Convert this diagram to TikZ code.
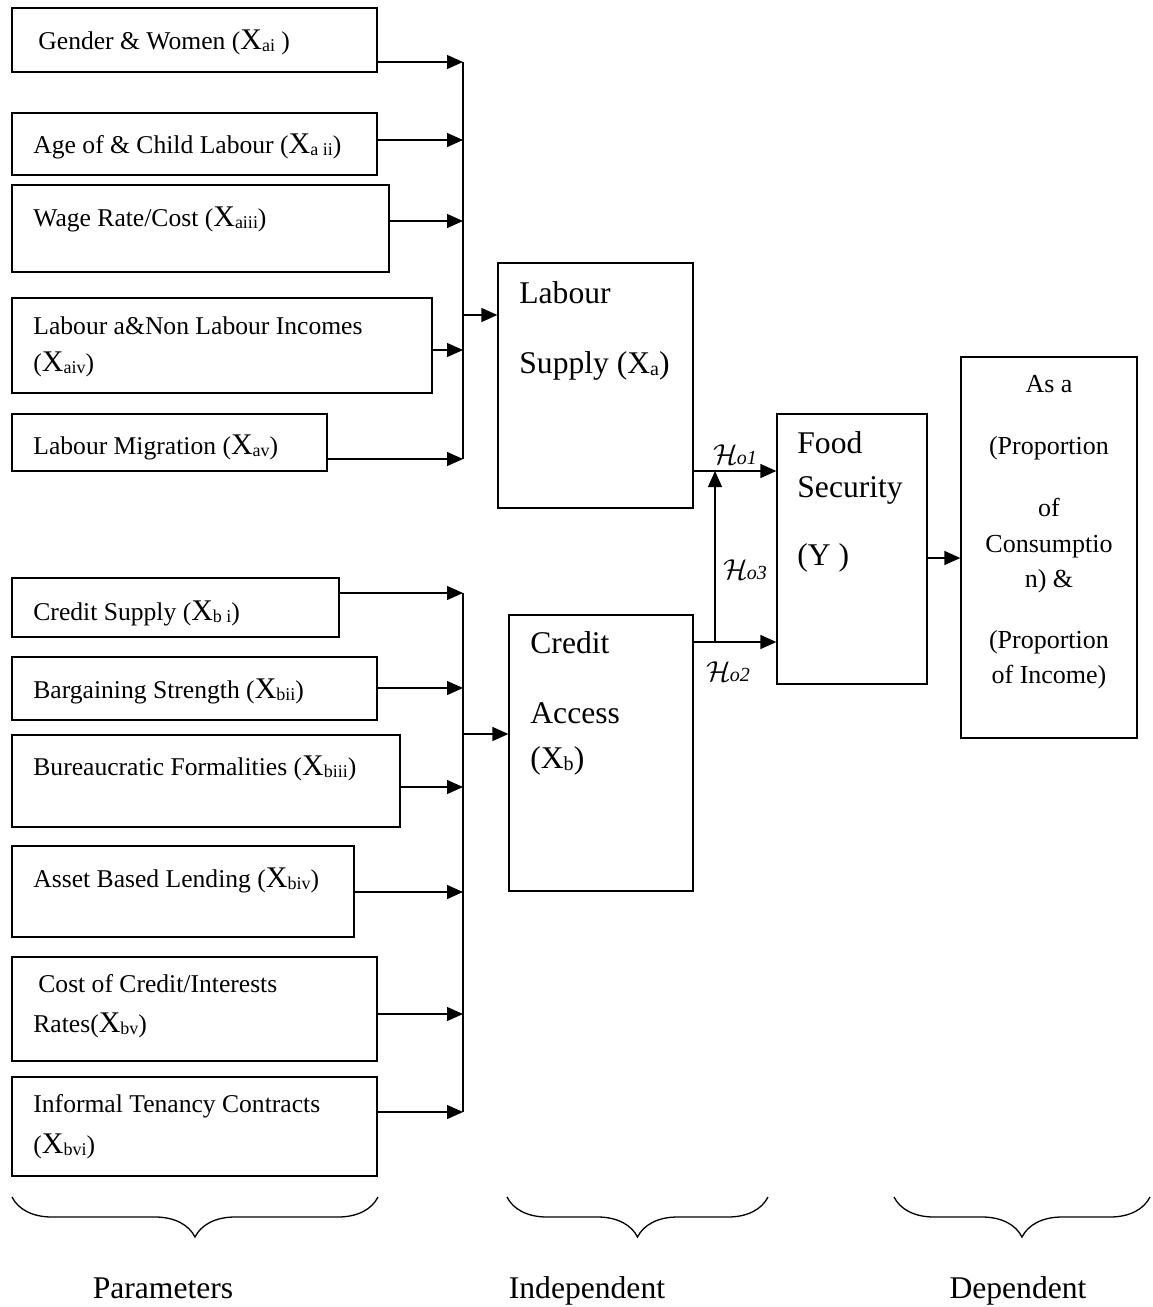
\documentclass[tikz,border=0pt]{standalone}
\usepackage{fontspec}
\setmainfont{Liberation Serif}
\usetikzlibrary{arrows.meta,fit,decorations.pathreplacing}

% variable names: big X, small lowered index
\newcommand{\Xsub}[1]{{\fontsize{15}{15}\selectfont X}\raisebox{-1.2pt}{\fontsize{9}{9}\selectfont #1}}
\newcommand{\Xsm}[1]{X\raisebox{-1.2pt}{\fontsize{10}{10}\selectfont #1}}
\newcommand{\Hyp}[1]{{\fontsize{14}{14}\selectfont$\mathcal{H}$}\kern-0.5pt{\itshape\fontsize{10}{10}\selectfont o#1}}

\tikzset{
  box/.style={draw, line width=0.65pt, inner sep=0pt},
  lbl/.style={anchor=base west, inner sep=0pt, align=left, font=\fontsize{12.8}{18.5}\selectfont},
  big/.style={anchor=base west, inner sep=0pt, align=left, font=\fontsize{15.8}{20}\selectfont},
  caption/.style={anchor=base, inner sep=0pt, font=\fontsize{15.8}{18}\selectfont},
  ln/.style={line width=0.65pt},
  arr/.style={line width=0.65pt, -{Triangle[length=8pt,width=7pt]}},
}

\begin{document}
\begin{tikzpicture}[x=0.5pt, y=-0.5pt]
\useasboundingbox (0,0) rectangle (1152,1307);

% parameters of labour supply (text nodes sit on their last baseline)
\node[box, fit={(12,8) (377,72)}] (gender) {};
\node[lbl] (gender-t) at (38,49) {Gender \& Women (\Xsub{ai} )};
\node[box, fit={(12,113) (377,175)}] (age) {};
\node[lbl] (age-t) at (33,153) {Age of \& Child Labour (\Xsub{a ii})};
\node[box, fit={(12,185) (389,272)}] (wage) {};
\node[lbl] (wage-t) at (33,226) {Wage Rate/Cost (\Xsub{aiii})};
\node[box, fit={(12,298) (432,393)}] (income) {};
\node[lbl] (income-t) at (33,371) {Labour a\&Non Labour Incomes\\(\Xsub{aiv})};
\node[box, fit={(12,414) (327,471)}] (migr) {};
\node[lbl] (migr-t) at (33,454) {Labour Migration (\Xsub{av})};

% parameters of credit access
\node[box, fit={(12,578) (339,637)}] (csupply) {};
\node[lbl] (csupply-t) at (33,620) {Credit Supply (\Xsub{b i})};
\node[box, fit={(12,657) (377,720)}] (bargain) {};
\node[lbl] (bargain-t) at (33,698) {Bargaining Strength (\Xsub{bii})};
\node[box, fit={(12,735) (400,827)}] (bureau) {};
\node[lbl] (bureau-t) at (33,775) {Bureaucratic Formalities (\Xsub{biii})};
\node[box, fit={(12,846) (354,937)}] (asset) {};
\node[lbl] (asset-t) at (33,887) {Asset Based Lending (\Xsub{biv})};
\node[box, fit={(12,957) (377,1061)}] (cost) {};
\node[lbl] (cost-t) at (33,1032) {\hspace{2.5pt}Cost of Credit/Interests\\[1.5pt]Rates(\Xsub{bv})};
\node[box, fit={(12,1077) (377,1176)}] (tenancy) {};
\node[lbl] (tenancy-t) at (33,1153) {Informal Tenancy Contracts\\[2pt](\Xsub{bvi})};

% independent and dependent variables
\node[box, fit={(498,263) (693,508)}] (supply) {};
\node[big] (supply-t) at (519,373) {Labour\\[15pt]Supply (\Xsm{a})};
\node[box, fit={(509,615) (693,891)}] (access) {};
\node[big] (access-t) at (530,768) {Credit\\[15pt]Access\\[2.5pt](\Xsm{b})};
\node[box, fit={(777,414) (927,684)}] (food) {};
\node[big] (food-t) at (797,565) {Food\\[2pt]Security\\[14pt](Y )};
\node[box, fit={(961,357) (1137,738)}] (dep) {};
\node[anchor=base, inner sep=0pt, align=center, font=\fontsize{13}{17.5}\selectfont] (dep-t) at (1049,683)
  {As a\\[13.5pt](Proportion\\[13.5pt]of\\[0.5pt]Consumptio\\n) \&\\[13pt](Proportion\\of Income)};

% bus lines
\draw[ln] (463,62) -- (463,459);
\draw[ln] (463,593) -- (463,1112);
\foreach \b/\y in {gender/62, age/140, wage/221, income/350, migr/459,
                   csupply/593, bargain/688, bureau/787, asset/892, cost/1014, tenancy/1112}
  \draw[arr] (\b.east |- 0,\y) -- (463,\y);
\coordinate (busa) at (463,315);
\coordinate (busb) at (463,734);
\draw[arr] (busa) -- (supply.west |- busa);
\draw[arr] (busb) -- (access.west |- busb);

% hypotheses
\draw[arr] (supply.east |- 0,471) -- (food.west |- 0,471);
\draw[arr] (access.east |- 0,642) -- (food.west |- 0,642);
\coordinate (hjoin) at (715,642);
\draw[arr] (hjoin) -- (715,471);
\node (h1) at (735,455) {\Hyp{1}};
\node (h3) at (745,570) {\Hyp{3}};
\node (h2) at (728,672) {\Hyp{2}};
\draw[arr] (food.east |- 0,558) -- (dep.west |- 0,558);

% braces
\draw[ln, decorate, decoration={brace, mirror, amplitude=20pt}] (12,1197) -- (378,1197);
\draw[ln, decorate, decoration={brace, mirror, amplitude=20pt}] (507,1197) -- (768,1197);
\draw[ln, decorate, decoration={brace, mirror, amplitude=20pt}] (894,1197) -- (1150,1197);
\node[caption] (par) at (163,1298) {Parameters};
\node[caption] (ind) at (587,1298) {Independent};
\node[caption] (dpd) at (1018,1298) {Dependent};
\end{tikzpicture}
\end{document}
